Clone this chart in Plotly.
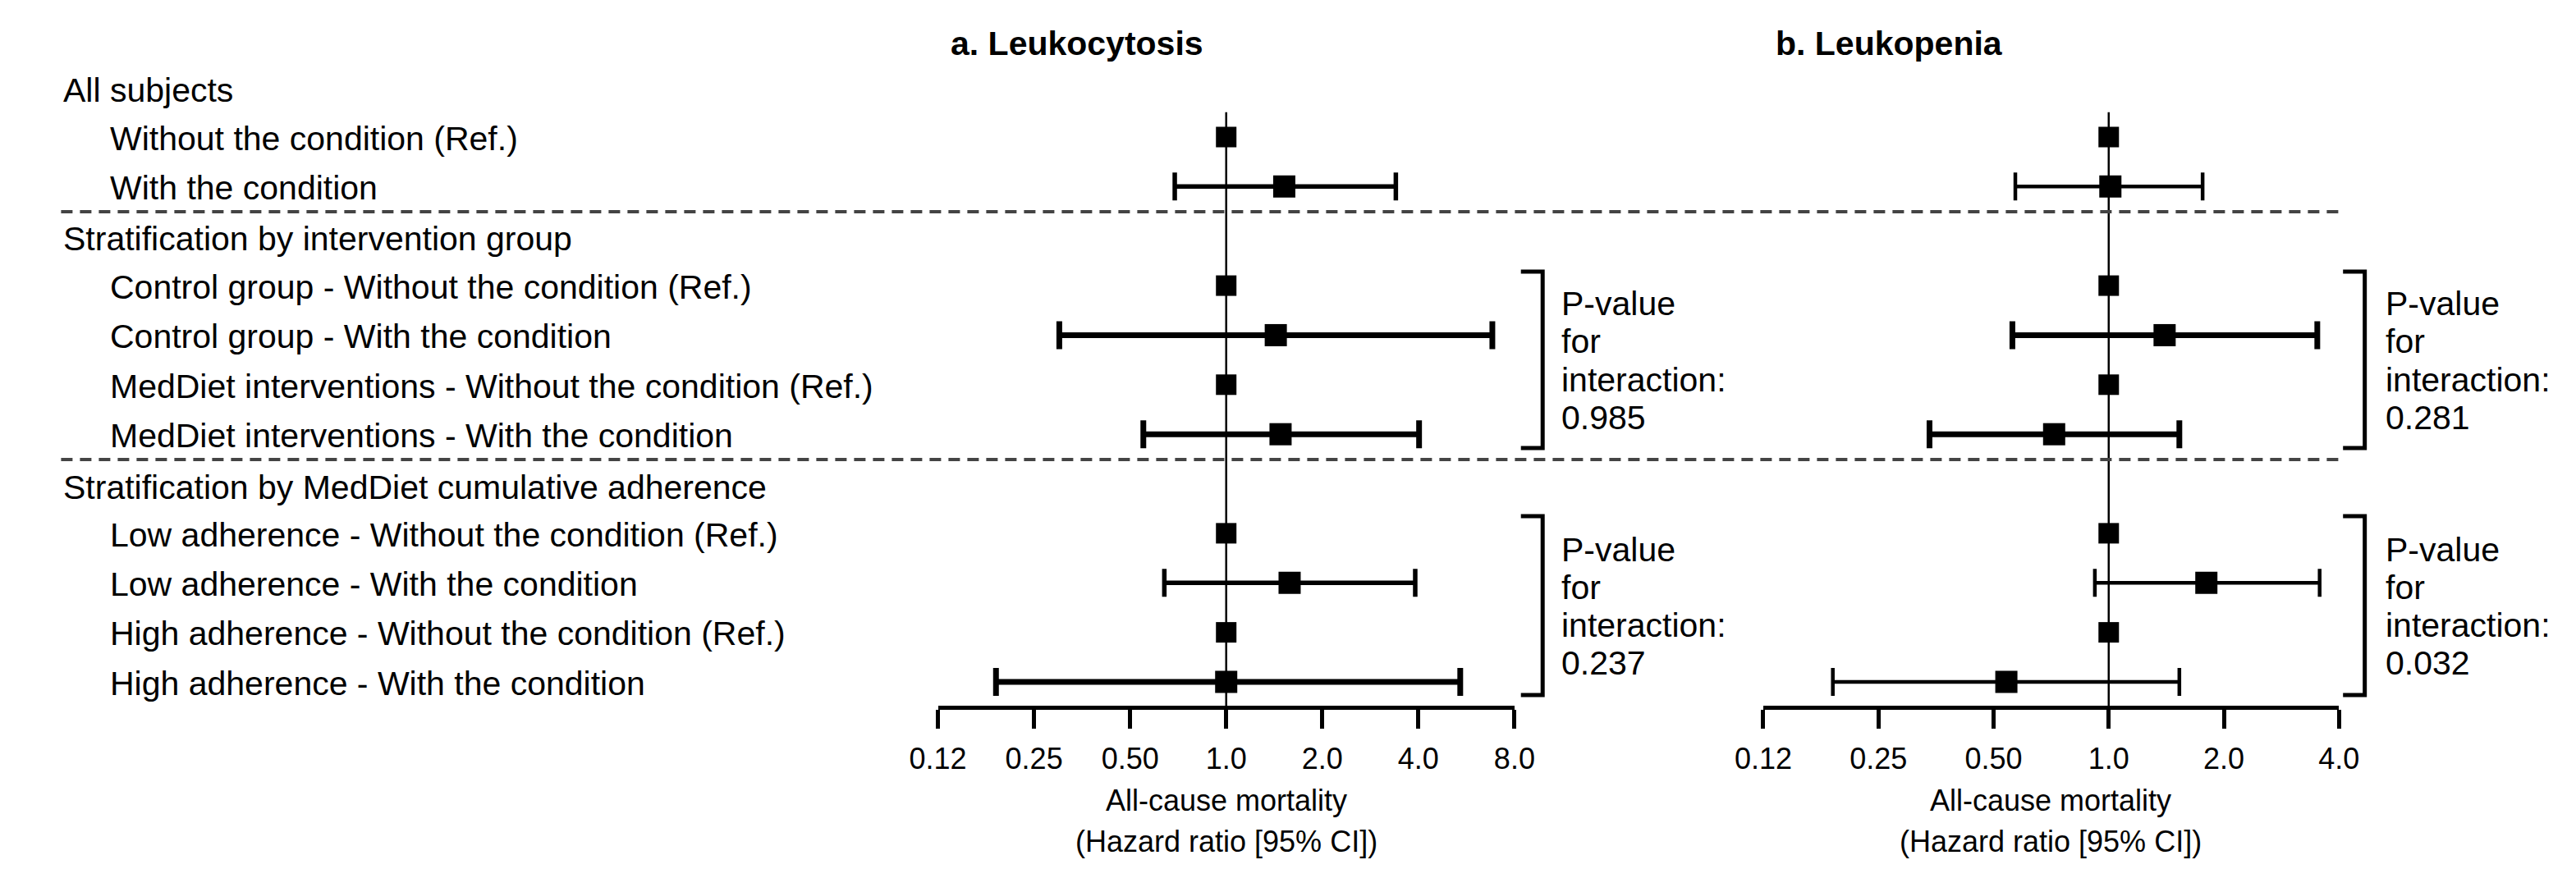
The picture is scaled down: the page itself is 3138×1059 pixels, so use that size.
import math
import plotly.graph_objects as go

W, H = 3138, 1059

# ---------------- data ----------------
row_labels = [
    "All subjects",
    "Without the condition (Ref.)",
    "With the condition",
    "Stratification by intervention group",
    "Control group - Without the condition (Ref.)",
    "Control group - With the condition",
    "MedDiet interventions - Without the condition (Ref.)",
    "MedDiet interventions - With the condition",
    "Stratification by MedDiet cumulative adherence",
    "Low adherence - Without the condition (Ref.)",
    "Low adherence - With the condition",
    "High adherence - Without the condition (Ref.)",
    "High adherence - With the condition",
]
row_is_header = [True, False, False, True, False, False, False, False, True, False, False, False, False]
is_ref = [True, False, True, False, True, False, True, False, True, False]

leuko_hr = [1.0, 1.52, 1.0, 1.43, 1.0, 1.48, 1.0, 1.58, 1.0, 1.00]
leuko_lo = [1.0, 0.69, 1.0, 0.30, 1.0, 0.55, 1.0, 0.64, 1.0, 0.19]
leuko_hi = [1.0, 3.40, 1.0, 6.82, 1.0, 4.02, 1.0, 3.91, 1.0, 5.41]
leuko_p = ["0.985", "0.237"]

penia_hr = [1.0, 1.01, 1.0, 1.40, 1.0, 0.72, 1.0, 1.80, 1.0, 0.54]
penia_lo = [1.0, 0.57, 1.0, 0.56, 1.0, 0.34, 1.0, 0.92, 1.0, 0.19]
penia_hi = [1.0, 1.76, 1.0, 3.51, 1.0, 1.53, 1.0, 3.56, 1.0, 1.53]
penia_p = ["0.281", "0.032"]

panel_titles = ["a. Leukocytosis", "b. Leukopenia"]
tick_vals_a = [0.125, 0.25, 0.5, 1, 2, 4, 8]
tick_text_a = ["0.12", "0.25", "0.50", "1.0", "2.0", "4.0", "8.0"]
tick_vals_b = [0.125, 0.25, 0.5, 1, 2, 4]
tick_text_b = ["0.12", "0.25", "0.50", "1.0", "2.0", "4.0"]
axis_title_1 = "All-cause mortality"
axis_title_2 = "(Hazard ratio [95% CI])"
p_lines = ["P-value", "for", "interaction:"]

# ---------------- layout helpers ----------------
ROW0_PX, ROW_PX = 159.0, 60.36          # pixel y of first data row, row pitch
label_pos = [-0.95, 0.04, 1.03, 2.05, 3.04, 4.03, 5.03, 6.03, 7.07, 8.03, 9.03, 10.03, 11.03]
data_pos = [0, 1, 3, 4, 5, 6, 8, 9, 10, 11]
thick_a = [0, 5.5, 0, 7, 0, 7, 0, 5.5, 0, 7]
thick_b = [0, 4.5, 0, 7, 0, 7, 0, 4.5, 0, 4.5]

y_top = -ROW0_PX / ROW_PX
y_bot = (H - ROW0_PX) / ROW_PX


def py(px):
    return 1 - px / H


def px_x(px):
    return px / W


def row_of(px):
    return (px - ROW0_PX) / ROW_PX


fig = go.Figure()

panels = [
    dict(xa="x", hr=leuko_hr, lo=leuko_lo, hi=leuko_hi, th=thick_a),
    dict(xa="x2", hr=penia_hr, lo=penia_lo, hi=penia_hi, th=thick_b),
]

for p in panels:
    # reference line at HR = 1
    fig.add_trace(go.Scatter(
        x=[1, 1], y=[-0.5, row_of(854)], mode="lines",
        line=dict(color="black", width=2.5),
        xaxis=p["xa"], yaxis="y", showlegend=False, hoverinfo="skip"))
    for i in range(len(p["hr"])):
        ref = is_ref[i]
        fig.add_trace(go.Scatter(
            x=[p["hr"][i]], y=[data_pos[i]], mode="markers",
            marker=dict(symbol="square", size=25 if ref else 27, color="black"),
            error_x=dict(type="data", symmetric=False,
                         array=[p["hi"][i] - p["hr"][i]],
                         arrayminus=[p["hr"][i] - p["lo"][i]],
                         thickness=p["th"][i] if not ref else 1,
                         width=17, color="black", visible=not ref),
            xaxis=p["xa"], yaxis="y", showlegend=False, hoverinfo="skip"))

annotations = []
for lab, pos, hdr in zip(row_labels, label_pos, row_is_header):
    annotations.append(dict(
        text=lab, xref="paper", yref="y", x=px_x(33 if hdr else 91), y=pos,
        xanchor="left", yanchor="middle", showarrow=False,
        font=dict(size=41, color="black")))

# panel titles
for t, cx in zip(panel_titles, [1294, 2303]):
    annotations.append(dict(
        text="<b>" + t + "</b>", xref="paper", yref="paper", x=px_x(cx), y=py(45),
        xanchor="center", yanchor="middle", showarrow=False,
        font=dict(size=41, color="black")))

# axis titles
for cx in [1479, 2503]:
    annotations.append(dict(text=axis_title_1, xref="paper", yref="paper", x=px_x(cx), y=py(967),
                            xanchor="center", yanchor="middle", showarrow=False,
                            font=dict(size=36, color="black")))
    annotations.append(dict(text=axis_title_2, xref="paper", yref="paper", x=px_x(cx), y=py(1017),
                            xanchor="center", yanchor="middle", showarrow=False,
                            font=dict(size=36, color="black")))

shapes = []
# dashed separators
for ypx in [250, 552]:
    shapes.append(dict(type="line", xref="paper", yref="y", x0=px_x(32), x1=px_x(2862),
                       y0=row_of(ypx), y1=row_of(ypx),
                       line=dict(color="#444444", width=4, dash="14px,9px")))

# brackets + p-value text
brackets = [(323, 538), (621, 839)]
for bx, tx, pvals in [(1872, 1893, leuko_p), (2893, 2917, penia_p)]:
    for (t, b), pv in zip(brackets, pvals):
        shapes.append(dict(type="path", xref="paper", yref="paper",
                           path="M {a},{t} L {c},{t} L {c},{b} L {a},{b}".format(
                               a=px_x(bx - 27), c=px_x(bx), t=py(t), b=py(b)),
                           line=dict(color="black", width=5)))
        mid = (t + b) / 2 + 1
        lines = p_lines + [pv]
        for k, txt in enumerate(lines):
            annotations.append(dict(text=txt, xref="paper", yref="paper",
                                    x=px_x(tx), y=py(mid + (k - 1.5) * 46.3),
                                    xanchor="left", yanchor="middle", showarrow=False,
                                    font=dict(size=41, color="black")))

axis_common = dict(type="log", anchor="free", position=py(854), showline=True,
                   linewidth=5, linecolor="black", ticks="outside", ticklen=23,
                   tickwidth=5, tickcolor="black", showgrid=False, zeroline=False,
                   tickfont=dict(size=36, color="black"), ticklabelstandoff=6,
                   fixedrange=True)

fig.update_layout(
    width=W, height=H, margin=dict(l=0, r=0, t=0, b=0),
    paper_bgcolor="white", plot_bgcolor="white",
    font=dict(family="Liberation Sans, Arial, sans-serif", color="black"),
    xaxis=dict(domain=[px_x(1121), px_x(1837)],
               range=[math.log10(0.125), math.log10(8)],
               tickvals=tick_vals_a, ticktext=tick_text_a, **axis_common),
    xaxis2=dict(domain=[px_x(2146), px_x(2861)],
                range=[math.log10(0.125), math.log10(4)],
                tickvals=tick_vals_b, ticktext=tick_text_b, **axis_common),
    yaxis=dict(domain=[0, 1], range=[y_bot, y_top], visible=False, fixedrange=True),
    annotations=annotations, shapes=shapes, showlegend=False,
)

fig.write_html("out.html")
